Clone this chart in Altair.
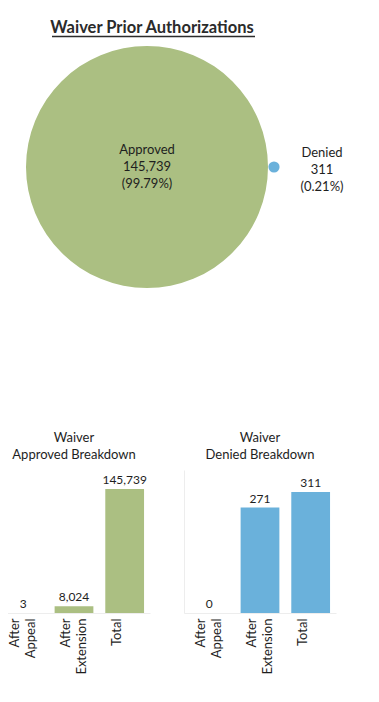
import altair as alt
import pandas as pd

# ---- data ----
chart_title = "Waiver Prior Authorizations"
pie_categories = ["Approved", "Denied"]
pie_values = [145739, 311]

breakdown_categories = ["After Appeal", "After Extension", "Total"]
approved_values = [3, 8024, 145739]
denied_values = [0, 271, 311]

GREEN = "#ABBF82"
BLUE = "#6AB1DB"
TEXT = "#1E1E1E"
AXIS = "#EDEDED"
FONT = "Lato"

total = sum(pie_values)
top_df = pd.DataFrame({
    "category": pie_categories,
    "value": pie_values,
})
top_df["label"] = [
    f"{c}\n{v:,}\n({v / total * 100:.2f}%)" for c, v in zip(pie_categories, pie_values)
]

xscale = alt.Scale(domain=pie_categories, range=[149, 276], padding=0)

top_base = alt.Chart(top_df).encode(
    x=alt.X("category:N", scale=xscale, axis=None),
    y=alt.value(159),
)

bubbles = top_base.mark_circle(opacity=1).encode(
    size=alt.Size("value:Q", scale=alt.Scale(type="linear", domain=[0, 145739], range=[0, 58564]), legend=None),
    color=alt.Color("category:N", scale=alt.Scale(domain=pie_categories, range=[GREEN, BLUE]), legend=None),
)

approved_label = top_base.mark_text(
    lineBreak="\n", lineHeight=17, fontSize=13, baseline="middle", align="center", color=TEXT, font=FONT,
    dy=-17
).encode(text="label:N").transform_filter(alt.datum.category == "Approved")

denied_label = top_base.mark_text(
    lineBreak="\n", lineHeight=17, fontSize=13, baseline="middle", align="center", color=TEXT, font=FONT,
    dx=48, dy=-14
).encode(text="label:N").transform_filter(alt.datum.category == "Denied")

title_df = pd.DataFrame({"t": [chart_title]})
title_text = alt.Chart(title_df).mark_text(
    fontSize=16.5, fontWeight="bold", color="#2B2B2B", font=FONT, baseline="middle", align="center"
).encode(text="t:N", x=alt.value(154), y=alt.value(20))
underline = alt.Chart(title_df).mark_rule(color="#2B2B2B", strokeWidth=1.3).encode(
    x=alt.value(54), x2=alt.value(257), y=alt.value(28.5)
)

top = alt.layer(bubbles, approved_label, denied_label, underline, title_text).properties(
    width=350, height=400
)


def breakdown(values, color, title_line, ymax):
    df = pd.DataFrame({"category": breakdown_categories, "value": values})
    base = alt.Chart(df).encode(
        x=alt.X(
            "category:N",
            sort=breakdown_categories,
            scale=alt.Scale(paddingInner=0.235, paddingOuter=0.1175),
            axis=alt.Axis(
                title=None, labelAngle=-90, labelAlign="right", labelBaseline="middle",
                labelExpr="split(datum.label, ' ')", labelLineHeight=16, labelFontSize=13,
                labelFont=FONT, labelColor=TEXT, ticks=False, domainColor=AXIS, labelPadding=5,
                labelOffset=-8,
            ),
        ),
        y=alt.Y(
            "value:Q",
            scale=alt.Scale(domain=[0, ymax], nice=False),
            axis=alt.Axis(title=None, labels=False, ticks=False, grid=False, domainColor=AXIS),
        ),
    )
    bars = base.mark_bar(color=color)
    labels = base.mark_text(
        baseline="bottom", dy=-2, fontSize=12, font=FONT, color=TEXT
    ).encode(text=alt.Text("value:Q", format=","))
    return alt.layer(bars, labels).properties(
        width=152, height=143,
        title=alt.Title(["Waiver", title_line], fontSize=13, fontWeight="normal", font=FONT,
                        color=TEXT, lineHeight=17, offset=8, anchor="middle"),
    )


left = breakdown(approved_values, GREEN, "Approved Breakdown", 168000)
right = breakdown(denied_values, BLUE, "Denied Breakdown", 367.5)

bottom = alt.hconcat(left, right, spacing=34)

chart = alt.vconcat(top, bottom, spacing=24).properties(
    padding={"left": -10, "top": 0, "right": 0, "bottom": 0}
).configure(font=FONT).configure_view(stroke=None)

chart.save("out.html", embed_options={"renderer": "svg", "actions": False})
